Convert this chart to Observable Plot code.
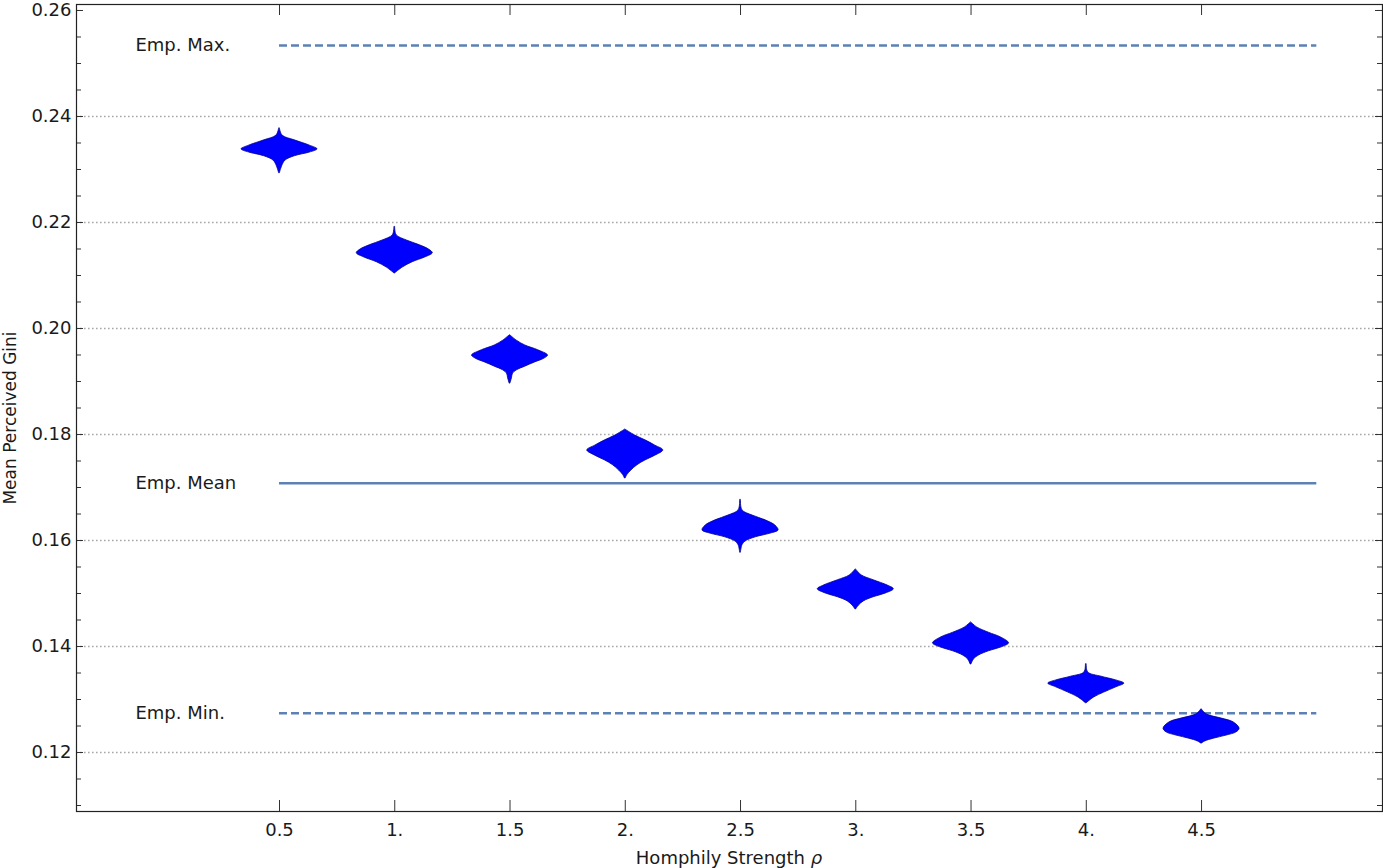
<!DOCTYPE html>
<html>
<head>
<meta charset="utf-8">
<script src="https://cdn.jsdelivr.net/npm/d3@7"></script>
<script src="https://cdn.jsdelivr.net/npm/@observablehq/plot@0.6"></script>
<style>
  html, body { margin: 0; padding: 0; background: #fff; }
  #chart svg { display: block; }
</style>
</head>
<body>
<div id="chart"></div>
<script>
// ---- data ----
const rho = [0.5, 1, 1.5, 2, 2.5, 3, 3.5, 4, 4.5];
const rhoTickLabels = ["0.5", "1.", "1.5", "2.", "2.5", "3.", "3.5", "4.", "4.5"];
const giniTicks = [0.12, 0.14, 0.16, 0.18, 0.20, 0.22, 0.24, 0.26];

// violin outlines: Gini values (top to bottom) and relative density (0..1)
const v05g = [0.2377, 0.2364, 0.2355, 0.2345, 0.2338, 0.2332, 0.2325, 0.2317, 0.2308, 0.2293];
const v05d = [0.01, 0.08, 0.40, 0.80, 1.00, 0.80, 0.40, 0.16, 0.08, 0.01];
const v10g = [0.2191, 0.2176, 0.2166, 0.2157, 0.2149, 0.2142, 0.2134, 0.2125, 0.2115, 0.2104];
const v10d = [0.01, 0.05, 0.32, 0.66, 0.90, 1.00, 0.80, 0.47, 0.21, 0.01];
const v15g = [0.1987, 0.1977, 0.1968, 0.1959, 0.1949, 0.1943, 0.1936, 0.1928, 0.1921, 0.1915, 0.1906, 0.1896];
const v15d = [0.01, 0.18, 0.40, 0.74, 1.00, 0.90, 0.66, 0.40, 0.18, 0.08, 0.05, 0.01];
const v20g = [0.1809, 0.1798, 0.1789, 0.1779, 0.1770, 0.1760, 0.1751, 0.1742, 0.1732, 0.1723, 0.1717];
const v20d = [0.01, 0.26, 0.53, 0.79, 1.00, 0.79, 0.53, 0.32, 0.16, 0.05, 0.01];
const v25g = [0.1676, 0.1657, 0.1647, 0.1638, 0.1628, 0.1619, 0.1613, 0.1606, 0.1598, 0.1591, 0.1577];
const v25d = [0.01, 0.05, 0.32, 0.66, 0.92, 1.00, 0.79, 0.40, 0.13, 0.05, 0.01];
const v30g = [0.1545, 0.1534, 0.1525, 0.1515, 0.1508, 0.1500, 0.1493, 0.1485, 0.1477, 0.1470];
const v30d = [0.01, 0.16, 0.47, 0.84, 1.00, 0.79, 0.47, 0.21, 0.08, 0.01];
const v35g = [0.1445, 0.1436, 0.1426, 0.1417, 0.1406, 0.1398, 0.1391, 0.1383, 0.1376, 0.1366];
const v35d = [0.01, 0.16, 0.47, 0.79, 1.00, 0.79, 0.47, 0.21, 0.08, 0.01];
const v40g = [0.1366, 0.1351, 0.1343, 0.1336, 0.1330, 0.1323, 0.1313, 0.1304, 0.1293];
const v40d = [0.01, 0.05, 0.40, 0.79, 1.00, 0.79, 0.47, 0.21, 0.01];
const v45g = [0.1281, 0.1272, 0.1264, 0.1257, 0.1245, 0.1238, 0.1232, 0.1226, 0.1221, 0.1217];
const v45d = [0.01, 0.13, 0.53, 0.84, 1.00, 0.92, 0.66, 0.32, 0.10, 0.01];

const refNames = ["Emp. Max.", "Emp. Mean", "Emp. Min."];
const refValues = [0.2534, 0.1708, 0.1274];
const refDashed = [true, false, true];

// ---- build tables ----
const violinG = [v05g, v10g, v15g, v20g, v25g, v30g, v35g, v40g, v45g];
const violinD = [v05d, v10d, v15d, v20d, v25d, v30d, v35d, v40d, v45d];
const violins = [];
rho.forEach((r, i) => violinG[i].forEach((g, j) => violins.push({rho: r, g, d: violinD[i][j]})));
const refs = refNames.map((name, i) => ({name, value: refValues[i], dashed: refDashed[i]}));

const minorTicks = d3.range(110, 261, 5).map(v => v / 1000);

// ---- layout ----
const W = 1383, H = 868;
const mL = 76, mR = 1, mT = 4, mB = 57;
const fw = W - mL - mR, fh = H - mT - mB;
const xDomain = [-0.3807, 5.285];
const yDomain = [0.10887, 0.26113];
const halfWidth = 0.165; // max violin half-width in x units
const blue = "#5e81b5";
const ink = "#1a1a1a";

const plot = Plot.plot({
  width: W, height: H,
  marginLeft: mL, marginRight: mR, marginTop: mT, marginBottom: mB,
  style: {fontFamily: "DejaVu Sans", fontSize: "18px", color: ink, background: "#fff"},
  x: {domain: xDomain, axis: null},
  y: {domain: yDomain, axis: null},
  marks: [
    Plot.ruleY(giniTicks.filter(v => v < 0.25), {y: d => d, stroke: "#a8a8a8", strokeWidth: 1.6, strokeDasharray: "1.6,2.4"}),
    Plot.ruleY(refs.filter(d => d.dashed), {y: "value", x1: 0.5, x2: 5.0, stroke: blue, strokeWidth: 2.4, strokeDasharray: "8,4"}),
    Plot.ruleY(refs.filter(d => !d.dashed), {y: "value", x1: 0.5, x2: 5.0, stroke: blue, strokeWidth: 2.4}),
    Plot.text(refs, {x: -0.125, y: "value", text: "name", textAnchor: "start", fontSize: 18, fill: ink}),
    Plot.areaX(violins, {
      y: "g",
      x1: d => d.rho - d.d * halfWidth,
      x2: d => d.rho + d.d * halfWidth,
      z: "rho",
      fill: "#0000ff",
      stroke: "#00008b",
      strokeWidth: 0.8,
      curve: "catmull-rom"
    }),
    // inward ticks
    Plot.ruleY(minorTicks, {y: d => d, insetRight: fw - 5, stroke: "#333"}),
    Plot.ruleY(minorTicks, {y: d => d, insetLeft: fw - 5, stroke: "#333"}),
    Plot.ruleY(giniTicks, {y: d => d, insetRight: fw - 7, stroke: "#333"}),
    Plot.ruleY(giniTicks, {y: d => d, insetLeft: fw - 7, stroke: "#333"}),
    Plot.ruleX(rho, {x: d => d, insetTop: fh - 11, stroke: "#333"}),
    Plot.ruleX(rho, {x: d => d, insetBottom: fh - 11, stroke: "#333"}),
    Plot.frame({stroke: "#222", strokeWidth: 1.2}),
    // tick labels
    Plot.text(giniTicks, {y: d => d, frameAnchor: "left", dx: -5, textAnchor: "end", text: d => d3.format(".2f")(d), fontSize: 18, fill: ink}),
    Plot.text(rho, {x: d => d, frameAnchor: "bottom", dy: 19, lineAnchor: "middle", text: (d, i) => rhoTickLabels[i], fontSize: 18, fill: ink})
  ]
});

document.getElementById("chart").appendChild(plot);

// axis titles (real text)
const svg = d3.select(plot);
const xt = svg.append("text")
  .attr("x", mL + fw / 2).attr("y", 864)
  .attr("text-anchor", "middle")
  .attr("font-family", "DejaVu Sans").attr("font-size", 18).attr("fill", ink);
xt.append("tspan").text("Homphily Strength ");
xt.append("tspan").attr("font-style", "italic").text("ρ");

svg.append("text")
  .attr("transform", `translate(16,418) rotate(-90)`)
  .attr("text-anchor", "middle")
  .attr("font-family", "DejaVu Sans").attr("font-size", 17).attr("fill", ink)
  .text("Mean Perceived Gini");
</script>
</body>
</html>
